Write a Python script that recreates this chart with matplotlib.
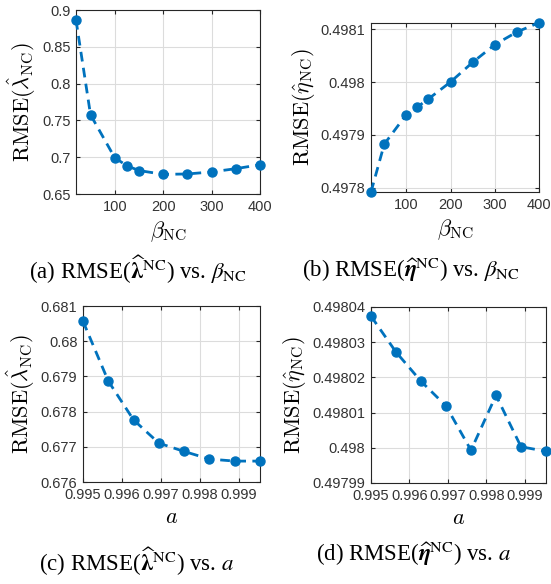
import matplotlib
matplotlib.use("Agg")
import matplotlib.pyplot as plt

W, H = 551, 584
BLUE = "#0072BD"

beta = [20, 50, 100, 125, 150, 200, 250, 300, 350, 400]
rmse_lambda_beta = [0.8864, 0.7576, 0.6993, 0.6884, 0.6819, 0.6767, 0.6772, 0.6800, 0.6844, 0.6898]
rmse_eta_beta = [0.497792, 0.4978826, 0.4979387, 0.4979532, 0.4979683,
                 0.4980004, 0.4980376, 0.4980710, 0.4980950, 0.4981126]

a_vals = [0.995, 0.99565, 0.9963, 0.99695, 0.9976, 0.99825, 0.9989, 0.99955]
rmse_lambda_a = [0.680566, 0.678868, 0.677764, 0.677104, 0.676868, 0.676651, 0.676594, 0.676594]
rmse_eta_a = [0.4980374, 0.4980272, 0.4980189, 0.4980119, 0.4979993, 0.4980149, 0.4980003, 0.4979990]

plt.rcParams["mathtext.fontset"] = "cm"
plt.rcParams["font.family"] = "Liberation Sans"

fig = plt.figure(figsize=(W / 100, H / 100), dpi=100)


def px_axes(left, right, top, bottom):
    return fig.add_axes([left / W, 1 - bottom / H, (right - left) / W, (bottom - top) / H])


def style(ax):
    ax.grid(True, color="#dcdcdc", linewidth=0.8)
    ax.set_axisbelow(True)
    ax.tick_params(direction="in", top=True, right=True, labelsize=10.5, length=3, pad=4,
                   colors="#262626", labelcolor="#333333")
    for s in ax.spines.values():
        s.set_color("#262626")
        s.set_linewidth(0.8)


def draw(ax, x, y):
    ax.plot(x, y, linestyle=(0, (3.5, 2.3)), color=BLUE, linewidth=2,
            marker="o", markersize=6.5, clip_on=False, zorder=3)


panels = [
    # x, y, axes box (left, right, top, bottom), xlim, ylim, yticks, ylabel, xlabel, caption, caption pos
    (beta, rmse_lambda_beta, (76, 260, 10, 194), (20, 400), (0.65, 0.9),
     [0.65, 0.7, 0.75, 0.8, 0.85, 0.9], ["0.65", "0.7", "0.75", "0.8", "0.85", "0.9"],
     [100, 200, 300, 400],
     r"$\mathrm{RMSE}(\hat{\lambda}_{\rm NC})$", r"$\beta_{\rm NC}$",
     r"(a) RMSE($\widehat{\boldsymbol{\lambda}}^{\rm NC}$) vs. $\beta_{\rm NC}$", (138, 270)),
    (beta, rmse_eta_beta, (371, 539, 23, 192), (20, 400), (0.497792, 0.498112),
     [0.4978, 0.4979, 0.498, 0.4981], ["0.4978", "0.4979", "0.498", "0.4981"],
     [100, 200, 300, 400],
     r"$\mathrm{RMSE}(\hat{\eta}_{\rm NC})$", r"$\beta_{\rm NC}$",
     r"(b) RMSE($\widehat{\boldsymbol{\eta}}^{\rm NC}$) vs. $\beta_{\rm NC}$", (411, 270)),
    (a_vals, rmse_lambda_a, (83, 260, 306, 482), (0.995, 0.99955), (0.676, 0.681),
     [0.676, 0.677, 0.678, 0.679, 0.68, 0.681], ["0.676", "0.677", "0.678", "0.679", "0.68", "0.681"],
     [0.995, 0.996, 0.997, 0.998, 0.999],
     r"$\mathrm{RMSE}(\hat{\lambda}_{\rm NC})$", r"$a$",
     r"(c) RMSE($\widehat{\boldsymbol{\lambda}}^{\rm NC}$) vs. $a$", (137, 562)),
    (a_vals, rmse_eta_a, (371, 546, 307, 483), (0.995, 0.99955), (0.49799, 0.49804),
     [0.49799, 0.498, 0.49801, 0.49802, 0.49803, 0.49804],
     ["0.49799", "0.498", "0.49801", "0.49802", "0.49803", "0.49804"],
     [0.995, 0.996, 0.997, 0.998, 0.999],
     r"$\mathrm{RMSE}(\hat{\eta}_{\rm NC})$", r"$a$",
     r"(d) RMSE($\widehat{\boldsymbol{\eta}}^{\rm NC}$) vs. $a$", (414, 554)),
]

for x, y, box, xlim, ylim, yt, ytl, xt, ylab, xlab, cap, cpos in panels:
    ax = px_axes(*box)
    style(ax)
    draw(ax, x, y)
    ax.set_xlim(*xlim)
    ax.set_ylim(*ylim)
    ax.set_yticks(yt)
    ax.set_yticklabels(ytl)
    ax.set_xticks(xt)
    ax.set_xticklabels([f"{v:g}" for v in xt])
    ax.set_ylabel(ylab, fontsize=16, labelpad=3)
    ax.set_xlabel(xlab, fontsize=16, labelpad=4)
    fig.text(cpos[0] / W, 1 - cpos[1] / H, cap, ha="center", va="center",
             fontsize=16.5, family="Liberation Serif", math_fontfamily="stix")

fig.savefig("out.png", dpi=100)
